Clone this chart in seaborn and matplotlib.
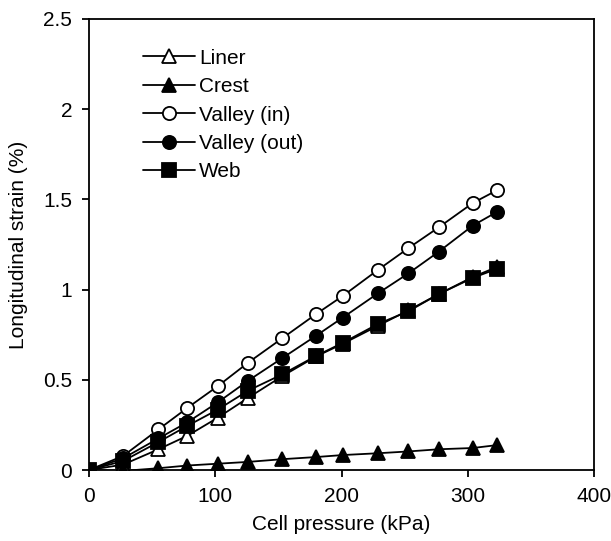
import matplotlib
matplotlib.use("Agg")
import matplotlib.pyplot as plt
import seaborn as sns
import pandas as pd

pressure = [0, 27, 55, 78, 102, 126, 153, 180, 201, 229, 253, 277, 304, 323]
liner = [0, 0.03, 0.115, 0.19, 0.29, 0.40, 0.52, 0.63, 0.70, 0.80, 0.885, 0.975, 1.07, 1.125]
crest = [0, -0.005, 0.01, 0.025, 0.035, 0.045, 0.06, 0.072, 0.083, 0.093, 0.103, 0.115, 0.122, 0.138]
valley_in = [0, 0.078, 0.225, 0.345, 0.465, 0.595, 0.73, 0.865, 0.965, 1.11, 1.23, 1.345, 1.48, 1.55]
valley_out = [0, 0.065, 0.175, 0.265, 0.375, 0.495, 0.62, 0.745, 0.845, 0.98, 1.09, 1.21, 1.355, 1.43]
web = [0, 0.05, 0.155, 0.245, 0.335, 0.44, 0.53, 0.633, 0.705, 0.81, 0.88, 0.975, 1.065, 1.115]

series = ["Liner", "Crest", "Valley (in)", "Valley (out)", "Web"]
values = [liner, crest, valley_in, valley_out, web]
markers = ["^", "^", "o", "o", "s"]
faces = ["white", "black", "white", "black", "black"]

sns.set_style("ticks")
plt.rcParams["font.family"] = ["Liberation Sans", "DejaVu Sans"]
FS = 15
plt.rcParams["font.size"] = FS
plt.rcParams["text.color"] = "black"
plt.rcParams["axes.labelcolor"] = "black"

fig = plt.figure(figsize=(6.11, 5.41), dpi=100)
ax = fig.add_axes([0.1457, 0.1312, 0.8265, 0.8337])

for name, vals, m, fc in zip(series, values, markers, faces):
    df = pd.DataFrame({"x": pressure, "y": vals})
    sns.lineplot(data=df, x="x", y="y", ax=ax, color="black", linewidth=1.3,
                 marker=m, markersize=10 if m == "^" else 9.5, markerfacecolor=fc,
                 markeredgecolor="black", markeredgewidth=1.3, label=name,
                 estimator=None, sort=False)

ax.set_xlim(0, 400)
ax.set_ylim(0, 2.5)
ax.set_xticks([0, 100, 200, 300, 400])
ax.set_yticks([0, 0.5, 1, 1.5, 2, 2.5])
ax.set_yticklabels(["0", "0.5", "1", "1.5", "2", "2.5"])
ax.set_xlabel("Cell pressure (kPa)", fontsize=FS, labelpad=7, color="black")
ax.set_ylabel("Longitudinal strain (%)", fontsize=FS, labelpad=11, color="black")
ax.tick_params(direction="out", length=5, width=1.3, labelsize=FS, colors="black", pad=7)
for s in ax.spines.values():
    s.set_linewidth(1.3)
    s.set_color("black")
    s.set_visible(True)

leg = ax.legend(loc="upper left", bbox_to_anchor=(0.107, 0.934), frameon=False,
                borderpad=0, borderaxespad=0, handlelength=2.5, handletextpad=0.2,
                labelspacing=0.45, fontsize=FS)
for t in leg.get_texts():
    t.set_color("black")

fig.savefig("out.png", dpi=100)
